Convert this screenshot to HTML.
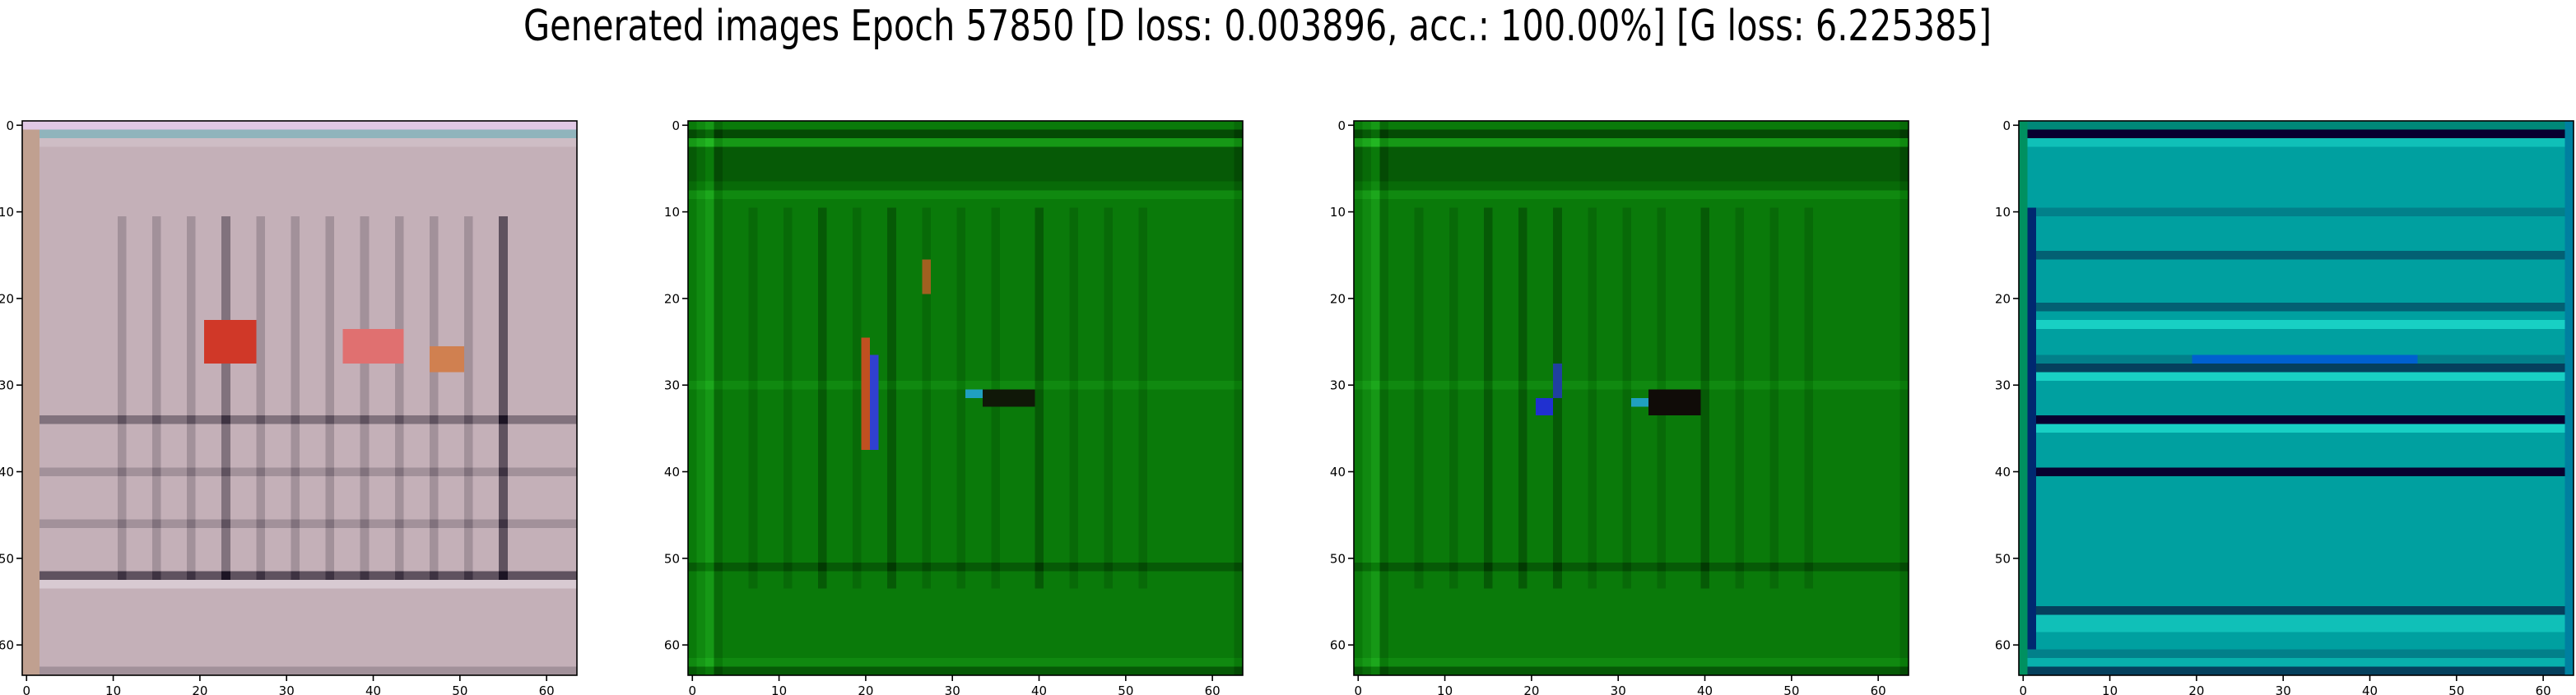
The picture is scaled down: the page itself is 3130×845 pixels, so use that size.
<!DOCTYPE html>
<html><head><meta charset="utf-8">
<style>
html,body{margin:0;padding:0;background:#fff;}
svg{display:block;}
text{font-family:"DejaVu Sans","Liberation Sans",sans-serif;fill:#000;}
</style></head>
<body>
<svg id="fig" width="3130" height="845" viewBox="0 0 3130 845" xmlns="http://www.w3.org/2000/svg">
<rect x="0" y="0" width="3130" height="845" fill="#fff"/>
<text x="1528" y="49" font-size="52" text-anchor="middle" textLength="1784" lengthAdjust="spacingAndGlyphs">Generated images Epoch 57850 [D loss: 0.003896, acc.: 100.00%] [G loss: 6.225385]</text>
</svg>
<script>
// ---- data ----
const panelLefts = [27, 836, 1645, 2453];
const tickValues = [0, 10, 20, 30, 40, 50, 60];
const tickLabels = ["0", "10", "20", "30", "40", "50", "60"];
const baseColors = ["#c4b0b8", "#0a7a0a", "#0a7a0a", "#00a0a0"];
const darkColors = ["#1c1424", "#002a00", "#002a00", "#080030"];
const brightColors = ["#ece4ec", "#22b622", "#22b622", "#20e0d0"];
const rowLevels = [
"8465555555555555555555555555555555355555455555455555275555555554",
"5273333465555555555555555555556555555555555555555553555555555563",
"5273333465555555555555555555556555555555555555555553555555555563",
"4075555555455553555553585554285555085555055555555555555527755462"
];
const colLevels = [
"5555555555545554555455535554555455545554555455545554555255555555",
"5674555455545553555455535554555455545555355545554555455555555554",
"5674555455545553555355535554555455545555355545554555455555555554",
"5555555555555555555555555555555555555555555555555555555555555555"
];
const interiorRows = [[11,52],[10,53],[10,53],[10,53]];
// spots: [row0,row1,col0,col1,color]
const spots = [
 [[1,1,0,63,"#90b4bc"],[0,63,0,1,"#c0a090"],[23,27,21,26,"#d03828"],[24,27,37,43,"#e07070"],[26,28,47,50,"#d08050"],[0,0,0,63,"#e0c8e4"]],
 [[25,37,20,20,"#c05020"],[27,37,21,21,"#3040d0"],[16,19,27,27,"#a06020"],[31,32,34,39,"#101808"],[31,31,32,33,"#20a0c0"]],
 [[28,31,23,23,"#2040a0"],[32,33,21,22,"#2030d0"],[32,32,32,33,"#20a0c0"],[31,33,34,39,"#100c08"]],
 [[0,0,0,63,"#008878"],[0,63,0,0,"#009060"],[10,60,1,1,"#002870"],[0,63,63,63,"#0080a0"],[27,27,20,45,"#0060d0"]]
];
// ---- helpers ----
const NS = "http://www.w3.org/2000/svg";
const svg = document.getElementById("fig");
const AX_TOP = 147, AX_SIZE = 674, N = 64;
function hex(c){return [parseInt(c.slice(1,3),16),parseInt(c.slice(3,5),16),parseInt(c.slice(5,7),16)];}
function mix(a,b,t){const A=hex(a),B=hex(b);return "rgb("+A.map((v,i)=>Math.round(v+(B[i]-v)*t)).join(",")+")";}
function levelColor(p,l){return l<5?mix(darkColors[p],baseColors[p],l/5):mix(baseColors[p],brightColors[p],(l-5)/4);}
function xScale(left,v){return left+(v+0.5)*AX_SIZE/N;}
function yScale(v){return AX_TOP+(v+0.5)*AX_SIZE/N;}
function mk(tag,attrs,parent){const e=document.createElementNS(NS,tag);for(const k in attrs)e.setAttribute(k,attrs[k]);parent.appendChild(e);return e;}
const cell = AX_SIZE/N;
panelLefts.forEach((left,p)=>{
  const g=mk("g",{},svg);
  
  
  const grid=Array.from({length:N},(_,r)=>Array.from({length:N},(_,c)=>{
    let l=+rowLevels[p][r];
    if(r>=interiorRows[p][0]&&r<=interiorRows[p][1]) l+= (+colLevels[p][c]-5);
    else if(c<4||c>60) l+= (+colLevels[p][c]-5);
    l=Math.max(0,Math.min(9,l));
    return levelColor(p,l);
  }));
  spots[p].forEach(s=>{for(let r=s[0];r<=s[1];r++)for(let c=s[2];c<=s[3];c++)grid[r][c]=s[4];});
  for(let r=0;r<N;r++){for(let c=0;c<N;c++){
    const px=mk("rect",{x:(xScale(left,c)-cell/2).toFixed(2),y:(yScale(r)-cell/2).toFixed(2),width:(cell+0.4).toFixed(2),height:(cell+0.4).toFixed(2),fill:grid[r][c],"shape-rendering":"crispEdges"},g);
    
    
  }}
  const frame=mk("rect",{x:left,y:AX_TOP,width:AX_SIZE,height:AX_SIZE,fill:"none",stroke:"#000","stroke-width":1.6},svg);
  
  
  tickValues.forEach((v,i)=>{
    const x=xScale(left,v), y=yScale(v);
    const xt=mk("line",{x1:x,x2:x,y1:AX_TOP+AX_SIZE,y2:AX_TOP+AX_SIZE+7,stroke:"#000","stroke-width":1.6},svg);
    
    
    const xl=mk("text",{x:x,y:845,"font-size":15,"text-anchor":"middle"},svg);
    xl.textContent=tickLabels[i];
    
    
    const yt=mk("line",{x1:left-7,x2:left,y1:y,y2:y,stroke:"#000","stroke-width":1.6},svg);
    
    
    const yl=mk("text",{x:left-10,y:y+5.5,"font-size":15,"text-anchor":"end"},svg);
    yl.textContent=tickLabels[i];
    
    
  });
});
</script>
</body></html>
